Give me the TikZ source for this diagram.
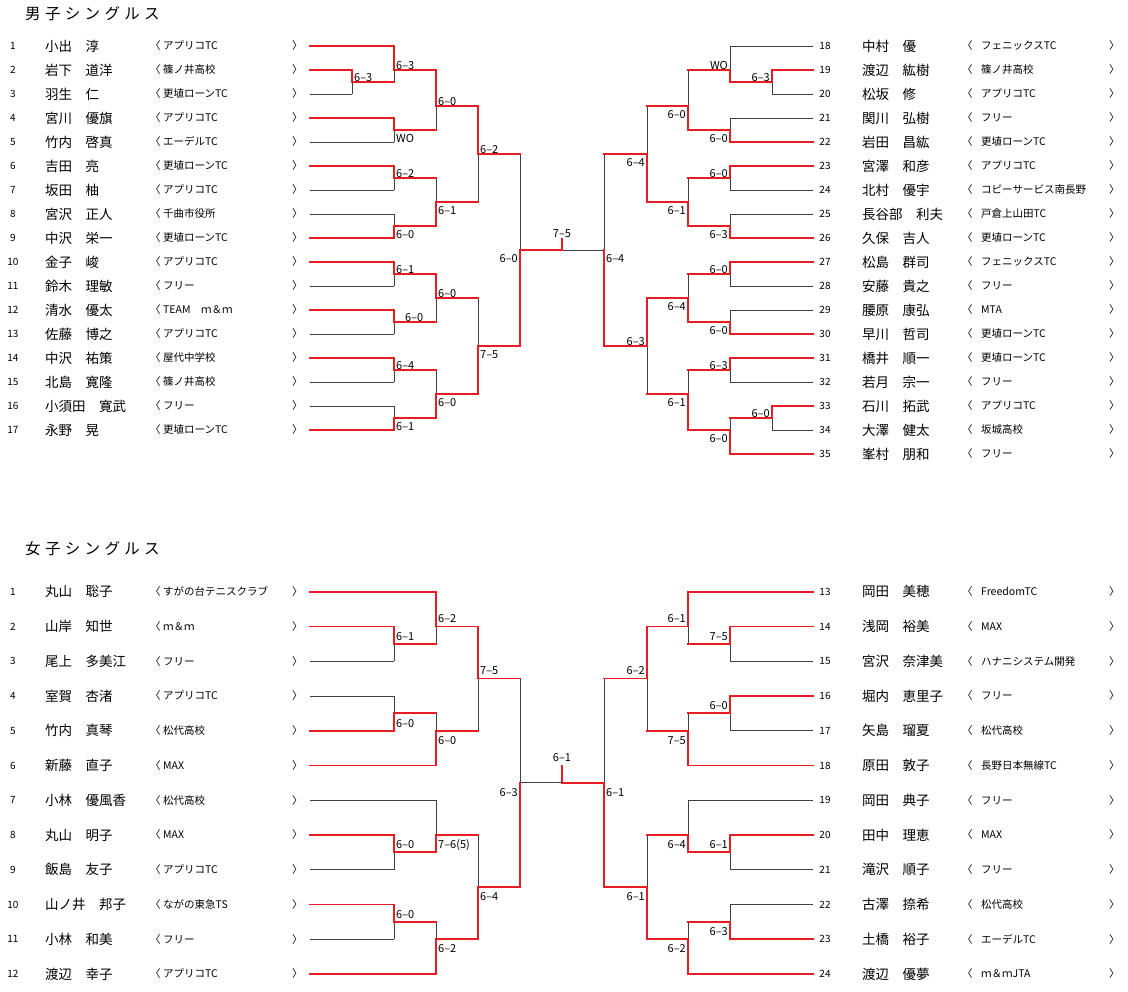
\documentclass[tikz,border=0pt]{standalone}
\usepackage{fontspec}
\setmainfont{Noto Sans CJK JP}
\newfontfamily\ttlfont[LetterSpace=28]{Noto Sans CJK JP}
\definecolor{winred}{RGB}{232,28,36}
\pgfdeclarelayer{back}
\pgfsetlayers{back,main}
% match: x, top, bottom, out, winner entry, next x
\newcommand{\bout}[6]{%
  \begin{pgfonlayer}{back}\draw[blkln] (#1,#2) -- (#1,#3);\end{pgfonlayer}
  \draw[redln] (#1,#5) -- (#1,#4) -- (#6,#4);}
% semifinal whose winner lost the final
\newcommand{\blost}[6]{%
  \begin{pgfonlayer}{back}\draw[blkln] (#1,#2) -- (#1,#3) (#1,#4) -- (#6,#4);\end{pgfonlayer}
  \draw[redln] (#1,#5) -- (#1,#4);}

\begin{document}
\begin{tikzpicture}[x=1pt,y=-1pt,
    num/.style={font=\fontsize{10}{11}\selectfont,inner sep=0pt,text height=7.3pt,text depth=0pt},
    nm/.style={font=\fontsize{13.5}{14}\selectfont,anchor=west,inner sep=0pt,text height=11.9pt,text depth=1.6pt},
    cl/.style={font=\fontsize{10.5}{11}\selectfont,anchor=west,inner sep=0pt,text height=9.2pt,text depth=1.3pt},
    ttl/.style={font=\ttlfont\fontsize{15.5}{16}\selectfont,anchor=west,inner sep=0pt},
    sc/.style={font=\fontsize{11}{12}\selectfont,inner sep=0pt,text height=8pt,text depth=0pt},
    lu/.style={sc,anchor=west,xshift=2pt,yshift=\upoff},
    ld/.style={sc,anchor=west,xshift=2pt,yshift=-\dnoff},
    ru/.style={sc,anchor=east,xshift=-2pt,yshift=\upoff},
    rd/.style={sc,anchor=east,xshift=-2pt,yshift=-\dnoff},
    redln/.style={draw=winred,line width=1.8pt,line cap=rect},
    blkln/.style={draw=black!75,line width=0.8pt}]
  \useasboundingbox (0,0) rectangle (1128,992);

  \node[ttl] (mtitle) at (25,13.5) {男子シングルス};
  \node[ttl] (wtitle) at (25,548.5) {女子シングルス};

  % men
  \begin{scope}[yshift=-46pt,y=-12pt]
    \def\upoff{4.8pt}\def\dnoff{8.5pt}
    \foreach \n/\nm/\cl/\xe/\st in {1/小出　淳/アプリコTC/394/redln,
        2/岩下　道洋/篠ノ井高校/352/redln, 3/羽生　仁/更埴ローンTC/352/blkln,
        4/宮川　優旗/アプリコTC/394/redln, 5/竹内　啓真/エーデルTC/394/blkln,
        6/吉田　亮/更埴ローンTC/394/redln, 7/坂田　柚/アプリコTC/394/blkln,
        8/宮沢　正人/千曲市役所/394/blkln, 9/中沢　栄一/更埴ローンTC/394/redln,
        10/金子　峻/アプリコTC/394/redln, 11/鈴木　理敏/フリー/394/blkln,
        12/清水　優太/TEAM　ｍ＆ｍ/394/redln, 13/佐藤　博之/アプリコTC/394/blkln,
        14/中沢　祐策/屋代中学校/394/redln, 15/北島　寛隆/篠ノ井高校/394/blkln,
        16/小須田　寛武/フリー/394/blkln, 17/永野　晃/更埴ローンTC/394/redln}
    {
      \node[num] (mn\n) at (13,{2*(\n-1)}) {\n};
      \node[nm] (mp\n) at (45,{2*(\n-1)}) {\nm};
      \node[cl] (mo\n) at (150,{2*(\n-1)}) {〈};
      \node[cl] (mc\n) at (163,{2*(\n-1)}) {\cl};
      \node[cl] (mk\n) at (292,{2*(\n-1)}) {〉};
      \draw[\st] (310,{2*(\n-1)}) -- (\xe,{2*(\n-1)});
    }
    \foreach \n/\nm/\cl/\xs/\st in {18/中村　優/フェニックスTC/730/blkln,
        19/渡辺　紘樹/篠ノ井高校/772/redln, 20/松坂　修/アプリコTC/772/blkln,
        21/関川　弘樹/フリー/730/blkln, 22/岩田　昌紘/更埴ローンTC/730/redln,
        23/宮澤　和彦/アプリコTC/730/redln, 24/北村　優宇/コピーサービス南長野/730/blkln,
        25/長谷部　利夫/戸倉上山田TC/730/blkln, 26/久保　吉人/更埴ローンTC/730/redln,
        27/松島　群司/フェニックスTC/730/redln, 28/安藤　貴之/フリー/730/blkln,
        29/腰原　康弘/MTA/730/blkln, 30/早川　哲司/更埴ローンTC/730/redln,
        31/橋井　順一/更埴ローンTC/730/redln, 32/若月　宗一/フリー/730/blkln,
        33/石川　拓武/アプリコTC/772/redln, 34/大澤　健太/坂城高校/772/blkln,
        35/峯村　朋和/フリー/730/redln}
    {
      \node[num] (mn\n) at (825,{2*(\n-18)}) {\n};
      \node[nm] (mp\n) at (862,{2*(\n-18)}) {\nm};
      \node[cl] (mo\n) at (962,{2*(\n-18)}) {〈};
      \node[cl] (mc\n) at (981,{2*(\n-18)}) {\cl};
      \node[cl] (mk\n) at (1109,{2*(\n-18)}) {〉};
      \draw[\st] (\xs,{2*(\n-18)}) -- (813,{2*(\n-18)});
    }
    % left half
    \bout{352}{2}{4}{3}{2}{394}
    \bout{394}{0}{3}{2}{0}{436}
    \bout{394}{6}{8}{7}{6}{436}
    \bout{436}{2}{7}{5}{2}{478}
    \bout{394}{10}{12}{11}{10}{436}
    \bout{394}{14}{16}{15}{16}{436}
    \bout{436}{11}{15}{13}{15}{478}
    \bout{478}{5}{13}{9}{5}{520}
    \bout{394}{18}{20}{19}{18}{436}
    \bout{394}{22}{24}{23}{22}{436}
    \bout{436}{19}{23}{21}{19}{478}
    \bout{394}{26}{28}{27}{26}{436}
    \bout{394}{30}{32}{31}{32}{436}
    \bout{436}{27}{31}{29}{31}{478}
    \bout{478}{21}{29}{25}{29}{520}
    \bout{520}{9}{25}{17}{25}{562}
    % right half
    \bout{772}{2}{4}{3}{2}{730}
    \bout{730}{0}{3}{2}{3}{688}
    \bout{730}{6}{8}{7}{8}{688}
    \bout{688}{2}{7}{5}{7}{647}
    \bout{730}{10}{12}{11}{10}{688}
    \bout{730}{14}{16}{15}{16}{688}
    \bout{688}{11}{15}{13}{15}{647}
    \bout{647}{5}{13}{9}{13}{604}
    \bout{730}{18}{20}{19}{18}{688}
    \bout{730}{22}{24}{23}{24}{688}
    \bout{688}{19}{23}{21}{23}{647}
    \bout{730}{26}{28}{27}{26}{688}
    \bout{772}{30}{32}{31}{30}{730}
    \bout{730}{31}{34}{32}{34}{688}
    \bout{688}{27}{32}{29}{32}{647}
    \bout{647}{21}{29}{25}{21}{604}
    \blost{604}{9}{25}{17}{25}{562}
    \draw[redln] (562,17) -- ++(0pt,11pt);
    % scores
    \node[lu] (m1) at (352,3) {6–3};
    \node[lu] (m2) at (394,2) {6–3};
    \node[ld] (m3) at (394,7) {WO};
    \node[lu] (m4) at (436,5) {6–0};
    \node[lu] (m5) at (394,11) {6–2};
    \node[ld] (m6) at (394,15) {6–0};
    \node[ld] (m7) at (436,13) {6–1};
    \node[lu] (m8) at (478,9) {6–2};
    \node[lu] (m9) at (394,19) {6–1};
    \node[lu,xshift=9pt] (m10) at (394,23) {6–0};
    \node[lu] (m11) at (436,21) {6–0};
    \node[lu] (m12) at (394,27) {6–4};
    \node[ld] (m13) at (394,31) {6–1};
    \node[ld] (m14) at (436,29) {6–0};
    \node[ld] (m15) at (478,25) {7–5};
    \node[rd] (m16) at (520,17) {6–0};
    \node[sc,yshift=16pt] (mfin) at (562,17) {7–5};
    \node[ru] (r1) at (772,3) {6–3};
    \node[ru] (r2) at (730,2) {WO};
    \node[rd] (r3) at (730,7) {6–0};
    \node[rd] (r4) at (688,5) {6–0};
    \node[ru] (r5) at (730,11) {6–0};
    \node[rd] (r6) at (730,15) {6–3};
    \node[rd] (r7) at (688,13) {6–1};
    \node[rd] (r8) at (647,9) {6–4};
    \node[ru] (r9) at (730,19) {6–0};
    \node[rd] (r10) at (730,23) {6–0};
    \node[rd] (r11) at (688,21) {6–4};
    \node[ru] (r12) at (730,27) {6–3};
    \node[ru] (r13) at (772,31) {6–0};
    \node[rd] (r14) at (730,32) {6–0};
    \node[rd] (r15) at (688,29) {6–1};
    \node[ru] (r16) at (647,25) {6–3};
    \node[ld] (r17) at (604,17) {6–4};
  \end{scope}

  % women
  \begin{scope}[yshift=-591.7pt,y=-17.375pt]
    \def\upoff{7.8pt}\def\dnoff{9.7pt}
    \foreach \n/\nm/\cl/\xe/\st in {1/丸山　聡子/すがの台テニスクラブ/436/redln,
        2/山岸　知世/ｍ＆ｍ/394/redln, 3/尾上　多美江/フリー/394/blkln,
        4/室賀　杏渚/アプリコTC/394/blkln, 5/竹内　真琴/松代高校/394/redln,
        6/新藤　直子/MAX/436/redln, 7/小林　優風香/松代高校/436/blkln,
        8/丸山　明子/MAX/394/redln, 9/飯島　友子/アプリコTC/394/blkln,
        10/山ノ井　邦子/ながの東急TS/394/redln, 11/小林　和美/フリー/394/blkln,
        12/渡辺　幸子/アプリコTC/436/redln}
    {
      \node[num] (wn\n) at (13,{2*(\n-1)}) {\n};
      \node[nm] (wp\n) at (45,{2*(\n-1)}) {\nm};
      \node[cl] (wo\n) at (150,{2*(\n-1)}) {〈};
      \node[cl] (wc\n) at (163,{2*(\n-1)}) {\cl};
      \node[cl] (wk\n) at (292,{2*(\n-1)}) {〉};
      \draw[\st] (310,{2*(\n-1)}) -- (\xe,{2*(\n-1)});
    }
    \foreach \n/\nm/\cl/\xs/\st in {13/岡田　美穂/FreedomTC/688/redln,
        14/浅岡　裕美/MAX/730/redln, 15/宮沢　奈津美/ハナニシステム開発/730/blkln,
        16/堀内　恵里子/フリー/730/redln, 17/矢島　瑠夏/松代高校/730/blkln,
        18/原田　敦子/長野日本無線TC/688/redln, 19/岡田　典子/フリー/688/blkln,
        20/田中　理恵/MAX/730/redln, 21/滝沢　順子/フリー/730/blkln,
        22/古澤　捺希/松代高校/730/blkln, 23/土橋　裕子/エーデルTC/730/redln,
        24/渡辺　優夢/ｍ＆ｍJTA/688/redln}
    {
      \node[num] (wn\n) at (825,{2*(\n-13)}) {\n};
      \node[nm] (wp\n) at (862,{2*(\n-13)}) {\nm};
      \node[cl] (wo\n) at (962,{2*(\n-13)}) {〈};
      \node[cl] (wc\n) at (981,{2*(\n-13)}) {\cl};
      \node[cl] (wk\n) at (1109,{2*(\n-13)}) {〉};
      \draw[\st] (\xs,{2*(\n-13)}) -- (813,{2*(\n-13)});
    }
    \bout{394}{2}{4}{3}{2}{436}
    \bout{436}{0}{3}{2}{0}{478}
    \bout{394}{6}{8}{7}{8}{436}
    \bout{436}{7}{10}{8}{10}{478}
    \bout{478}{2}{8}{5}{2}{520}
    \bout{394}{14}{16}{15}{14}{436}
    \bout{436}{12}{15}{14}{15}{478}
    \bout{394}{18}{20}{19}{18}{436}
    \bout{436}{19}{22}{20}{22}{478}
    \bout{478}{14}{20}{17}{20}{520}
    \blost{520}{5}{17}{11}{17}{562}
    \bout{730}{2}{4}{3}{2}{688}
    \bout{688}{0}{3}{2}{0}{647}
    \bout{730}{6}{8}{7}{6}{688}
    \bout{688}{7}{10}{8}{10}{647}
    \bout{647}{2}{8}{5}{2}{604}
    \bout{730}{14}{16}{15}{14}{688}
    \bout{688}{12}{15}{14}{15}{647}
    \bout{730}{18}{20}{19}{20}{688}
    \bout{688}{19}{22}{20}{22}{647}
    \bout{647}{14}{20}{17}{20}{604}
    \bout{604}{5}{17}{11}{17}{562}
    \draw[redln] (562,11) -- ++(0pt,17pt);
    \node[lu] (w1) at (394,3) {6–1};
    \node[lu] (w2) at (436,2) {6–2};
    \node[ld] (w3) at (394,7) {6–0};
    \node[ld] (w4) at (436,8) {6–0};
    \node[lu] (w5) at (478,5) {7–5};
    \node[lu] (w6) at (394,15) {6–0};
    \node[ld] (w7) at (436,14) {7–6(5)};
    \node[lu] (w8) at (394,19) {6–0};
    \node[ld] (w9) at (436,20) {6–2};
    \node[ld] (w10) at (478,17) {6–4};
    \node[rd] (w11) at (520,11) {6–3};
    \node[sc,yshift=25pt] (wfin) at (562,11) {6–1};
    \node[ru] (v1) at (730,3) {7–5};
    \node[ru] (v2) at (688,2) {6–1};
    \node[ru] (v3) at (730,7) {6–0};
    \node[rd] (v4) at (688,8) {7–5};
    \node[ru] (v5) at (647,5) {6–2};
    \node[ru] (v6) at (730,15) {6–1};
    \node[rd] (v7) at (688,14) {6–4};
    \node[rd] (v8) at (730,19) {6–3};
    \node[rd] (v9) at (688,20) {6–2};
    \node[rd] (v10) at (647,17) {6–1};
    \node[ld] (v11) at (604,11) {6–1};
  \end{scope}
\end{tikzpicture}
\end{document}
